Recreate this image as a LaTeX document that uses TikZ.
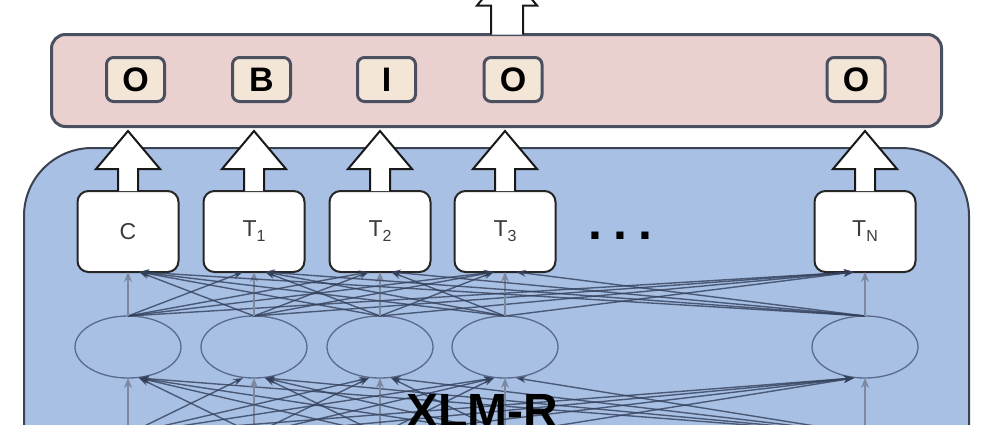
\documentclass[tikz,border=0pt]{standalone}
\usepackage{fontspec}
\setmainfont{Liberation Sans}
\usetikzlibrary{arrows.meta,shapes.geometric,calc}
\definecolor{pinkfill}{HTML}{EBD0D0}
\definecolor{frame}{HTML}{4A5060}
\definecolor{labfill}{HTML}{F4E6D6}
\definecolor{bluefill}{HTML}{A9C0E5}
\definecolor{blueframe}{HTML}{3A4150}
\definecolor{linkcol}{HTML}{33405A}
\definecolor{vertcol}{HTML}{7D899F}
\definecolor{ellcol}{HTML}{5A6A8A}
\definecolor{textgray}{HTML}{3C3C3C}
\newcommand\Tsub[1]{T\raisebox{-5pt}{\fontsize{16}{16}\selectfont #1}}
\begin{document}
\begin{tikzpicture}[x=1pt,y=-1pt,
  every node/.style={inner sep=0pt, outer sep=0pt},
  pinkbox/.style={draw=frame, fill=pinkfill, line width=3pt, rounded corners=14pt},
  labbox/.style={draw=frame, fill=labfill, line width=3pt, rounded corners=7pt,
    minimum width=58pt, minimum height=44pt, font=\fontsize{34}{34}\selectfont\bfseries},
  bluebox/.style={draw=blueframe, fill=bluefill, line width=2pt, rounded corners=68pt},
  tbox/.style={draw=black!85, fill=white, line width=2pt, rounded corners=11pt,
    minimum width=101pt, minimum height=81pt, font=\fontsize{23}{23}\selectfont, text=textgray},
  trm/.style={ellipse, draw=ellcol, line width=1.3pt, minimum width=106pt, minimum height=62pt},
  barrow/.style={draw=black!90, fill=white, line width=2pt, line join=miter},
  link/.style={draw=linkcol, line width=1.4pt, draw opacity=0.8, -{Stealth[length=10pt,width=7pt]}},
  vlink/.style={draw=vertcol, line width=1.1pt, -{Stealth[length=10pt,width=8pt]}},
]
\useasboundingbox (0,0) rectangle (998,424);
\clip (0,0) rectangle (998,424);
\fill[white] (0,0) rectangle (998,424);

% output layer
\node[pinkbox, minimum width=890pt, minimum height=92pt] (out) at (496.5,80.5) {};
\node[labbox] (l1) at (135.5,79.5) {O};
\node[labbox] (l2) at (261.5,79.5) {B};
\node[labbox] (l3) at (386.5,79.5) {I};
\node[labbox] (l4) at (513,79.5) {O};
\node[labbox] (l5) at (856,79.5) {O};

% top block arrow
\draw[barrow] ($(out.north)+(-5.5,0)$) -- ++(0,-29) -- ++(-14,0) -- ++(30,-36)
  -- ++(30,36) -- ++(-14,0) -- ++(0,29);

% encoder
\node[bluebox, minimum width=945pt, minimum height=452pt] (enc) at (496.5,374) {};

\node[tbox] (t1) at (128,231.5) {C};
\node[tbox] (t2) at (254,231.5) {\Tsub{1}};
\node[tbox] (t3) at (380,231.5) {\Tsub{2}};
\node[tbox] (t4) at (505,231.5) {\Tsub{3}};
\node[tbox] (t5) at (865,231.5) {\Tsub{N}};

\node[anchor=base, font=\fontsize{50}{50}\selectfont\bfseries] (dots) at (620.5,239) {.\hspace{11pt}.\hspace{11pt}.};

\foreach \i/\xi in {1/128,2/254,3/380,4/505,5/865}{
  \node[trm] (e\i) at (\xi,347) {};
  \coordinate (s\i) at (\xi,434);
}

% block arrows T -> output
\foreach \k in {1,...,5}{
  \draw[barrow] ($(t\k.north)+(-10,0)$) -- ++(0,-22) -- ++(-22,0) -- ++(32,-38)
    -- ++(32,38) -- ++(-22,0) -- ++(0,22);
}

% connections
\foreach \i/\xi in {1/128,2/254,3/380,4/505,5/865}{
  \foreach \j/\xj in {1/128,2/254,3/380,4/505,5/865}{
    \ifnum\i=\j\relax
    \else
      \pgfmathsetmacro\off{\xi>\xj ? 11 : -11}
      \draw[link] (e\i.north) -- ($(t\j.south)+(\off,0)$);
      \pgfmathsetmacro\offb{\xj>\xi ? 11 : -11}
      \draw[link] (s\j) -- ($(e\i.south)+(\offb,0)$);
    \fi
  }
  \draw[vlink] (e\i.north) -- (t\i.south);
  \draw[vlink] (s\i) -- (e\i.south);
}

\node[anchor=base west, font=\fontsize{48}{48}\selectfont\bfseries] (xlmr) at (406,427) {XLM-R};
\end{tikzpicture}
\end{document}
